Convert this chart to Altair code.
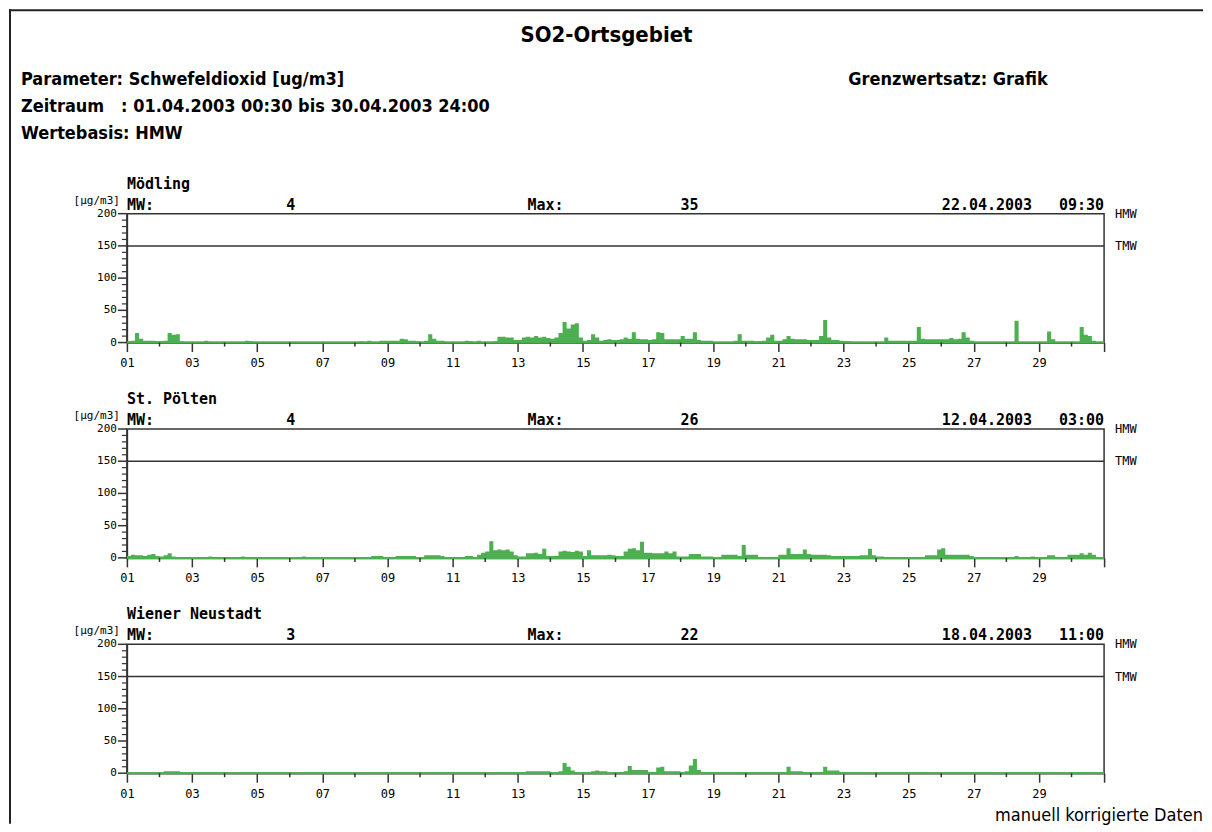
import altair as alt
import pandas as pd

# ---------------- data ----------------
stations = ["Mödling", "St. Pölten", "Wiener Neustadt"]
mw_values = ["4", "4", "3"]
max_values = ["35", "26", "22"]
NB = "\u00a0"
max_times = ["22.04.2003" + NB * 3 + "09:30",
             "12.04.2003" + NB * 3 + "03:00",
             "18.04.2003" + NB * 3 + "11:00"]

# 3-hourly SO2 values (8 per day, 01.-30.04.2003) [µg/m3]
moedling = [
    2, 3, 15, 6, 3, 3, 3, 2,
    2, 3, 15, 12, 13, 2, 1, 1,
    1, 1, 1, 3, 1, 1, 1, 1,
    1, 1, 1, 1, 1, 3, 2, 1,
    1, 1, 1, 1, 1, 1, 1, 1,
    1, 1, 1, 1, 1, 1, 1, 1,
    1, 1, 1, 1, 1, 1, 1, 1,
    1, 2, 1, 3, 1, 1, 3, 3,
    3, 3, 3, 6, 5, 3, 3, 2,
    1, 3, 13, 6, 3, 3, 1, 1,
    1, 1, 1, 3, 2, 1, 3, 1,
    1, 1, 2, 9, 9, 8, 8, 4,
    4, 8, 9, 8, 10, 8, 9, 7,
    6, 8, 15, 32, 22, 28, 30, 8,
    3, 4, 13, 8, 3, 4, 5, 4,
    4, 5, 8, 6, 16, 6, 5, 5,
    4, 5, 16, 15, 5, 5, 5, 5,
    10, 6, 6, 16, 4, 3, 3, 3,
    1, 1, 1, 1, 1, 3, 13, 3,
    3, 3, 2, 2, 3, 8, 12, 3,
    3, 5, 10, 6, 5, 5, 5, 4,
    4, 4, 10, 35, 8, 4, 4, 3,
    2, 2, 1, 1, 1, 1, 1, 1,
    1, 1, 8, 3, 3, 3, 3, 3,
    3, 3, 24, 6, 5, 5, 5, 5,
    5, 5, 7, 5, 6, 16, 8, 3,
    1, 1, 1, 1, 1, 1, 1, 1,
    1, 1, 34, 1, 1, 1, 1, 1,
    1, 1, 17, 5, 1, 1, 1, 1,
    1, 1, 24, 12, 10, 3, 1, 1,
]
stpoelten = [
    3, 5, 4, 4, 3, 5, 6, 3,
    2, 4, 7, 2, 1, 1, 1, 1,
    1, 1, 1, 1, 2, 1, 1, 1,
    1, 1, 1, 1, 2, 1, 1, 1,
    1, 1, 1, 1, 1, 1, 1, 1,
    1, 1, 1, 2, 1, 1, 1, 1,
    1, 1, 1, 1, 1, 1, 1, 1,
    1, 1, 1, 1, 3, 3, 3, 1,
    1, 1, 3, 3, 3, 3, 3, 1,
    1, 4, 4, 4, 4, 3, 1, 1,
    1, 1, 1, 3, 3, 1, 5, 8,
    10, 26, 12, 13, 12, 13, 10, 4,
    2, 2, 7, 7, 8, 6, 14, 3,
    3, 3, 10, 11, 10, 9, 11, 10,
    3, 12, 4, 4, 4, 4, 5, 4,
    3, 3, 10, 14, 15, 12, 25, 8,
    8, 7, 7, 7, 10, 7, 10, 2,
    2, 2, 6, 6, 6, 2, 2, 2,
    1, 1, 5, 5, 5, 5, 3, 20,
    5, 5, 5, 1, 1, 1, 1, 1,
    5, 5, 15, 6, 6, 6, 13, 6,
    5, 5, 5, 5, 4, 3, 3, 3,
    3, 3, 3, 3, 4, 4, 14, 4,
    2, 2, 1, 1, 1, 1, 1, 1,
    1, 1, 1, 1, 4, 4, 4, 13,
    15, 5, 5, 5, 5, 5, 5, 3,
    1, 1, 1, 1, 1, 1, 1, 1,
    1, 1, 3, 1, 1, 1, 2, 1,
    1, 1, 4, 4, 1, 1, 1, 5,
    5, 5, 7, 5, 8, 5, 1, 1,
]
wrneustadt = [
    1, 1, 2, 1, 1, 1, 1, 1,
    1, 3, 3, 3, 3, 1, 1, 1,
    1, 1, 1, 1, 1, 1, 1, 1,
    1, 1, 1, 1, 1, 1, 1, 1,
    1, 1, 1, 1, 1, 1, 1, 1,
    1, 1, 1, 1, 1, 1, 1, 1,
    1, 1, 1, 1, 1, 1, 1, 1,
    1, 1, 1, 1, 1, 2, 1, 1,
    1, 1, 2, 1, 1, 1, 1, 1,
    1, 1, 2, 1, 2, 1, 1, 1,
    1, 1, 1, 1, 1, 1, 1, 1,
    1, 1, 1, 2, 1, 1, 1, 1,
    1, 1, 3, 3, 3, 3, 3, 3,
    1, 1, 3, 16, 10, 4, 2, 1,
    1, 1, 3, 4, 3, 3, 1, 1,
    1, 2, 3, 11, 5, 5, 5, 5,
    2, 2, 9, 10, 3, 3, 3, 3,
    2, 3, 12, 22, 5, 2, 2, 2,
    1, 1, 1, 1, 1, 1, 2, 2,
    2, 2, 1, 1, 1, 1, 1, 1,
    1, 1, 10, 3, 3, 3, 1, 1,
    1, 1, 2, 10, 4, 4, 4, 2,
    1, 1, 1, 1, 1, 1, 1, 1,
    1, 1, 1, 1, 1, 1, 1, 1,
    1, 1, 1, 2, 2, 1, 1, 1,
    1, 1, 1, 1, 1, 1, 1, 1,
    1, 1, 1, 1, 1, 1, 1, 1,
    1, 1, 1, 1, 1, 1, 2, 2,
    1, 1, 1, 1, 1, 1, 1, 1,
    2, 2, 2, 1, 1, 1, 1, 1,
]
series = [moedling, stpoelten, wrneustadt]
steps_per_day = 8

x_major = list(range(1, 32, 2))
x_minor = list(range(2, 31, 2))
y_major = [0, 50, 100, 150, 200]
y_minor = [v for v in range(10, 200, 10) if v % 50 != 0]
limit_values = [200, 150]
limit_labels = ["HMW", "TMW"]

title_text = "SO2-Ortsgebiet"
header_lines = [
    "Parameter: Schwefeldioxid [ug/m3]",
    "Zeitraum" + NB * 3 + ": 01.04.2003 00:30 bis 30.04.2003 24:00",
    "Wertebasis: HMW",
]
right_header = "Grenzwertsatz: Grafik"
unit_text = "[µg/m3]"
footer_text = "manuell korrigierte Daten"

# ---------------- style ----------------
GREEN = "#4caf50"
DARK = "#333333"
HEAD_FONT = "DejaVu Sans Condensed"
BLOCK_FONT = "DejaVu Sans Mono"
W, H = 978, 129
one = pd.DataFrame({"a": [0]})

x_scale = alt.Scale(domain=[1, 31], nice=False, zero=False)
y_scale = alt.Scale(domain=[0, 200], nice=False)


def panel(k):
    vals = series[k]
    t = [1 + i / steps_per_day for i in range(len(vals))] + [31]
    v = list(vals) + [vals[-1]]
    df = pd.DataFrame({"t": t, "v": v})

    x_axis = alt.Axis(values=x_major, tickSize=9, labelPadding=6, title=None, grid=False,
                      labelFlush=False, labelOverlap=False, domainColor=DARK, domainWidth=1.5,
                      tickColor=DARK, tickWidth=1.5, labelFont=BLOCK_FONT, labelFontSize=12,
                      labelColor="black",
                      labelExpr="datum.value == 31 ? '' : (datum.value < 10 ? '0' + datum.value : '' + datum.value)")
    y_axis = alt.Axis(labels=False, ticks=False, title=None, grid=False,
                      domainColor=DARK, domainWidth=1.5)

    area = alt.Chart(df).mark_area(interpolate="step-after", color=GREEN).encode(
        x=alt.X("t:Q", scale=x_scale, axis=x_axis),
        y=alt.Y("v:Q", scale=y_scale, axis=y_axis),
    )
    base = alt.Chart(pd.DataFrame({"v": [0]})).mark_rule(color=GREEN, strokeWidth=2).encode(
        y="v:Q")
    lim_df = pd.DataFrame({"v": limit_values, "lab": limit_labels})
    tmw = alt.Chart(lim_df).transform_filter("datum.lab == 'TMW'").mark_rule(
        color=DARK, strokeWidth=1.5).encode(y="v:Q")
    lim_text = alt.Chart(lim_df).mark_text(align="left", baseline="middle", font=BLOCK_FONT,
                                           fontSize=12, color="black").encode(
        y="v:Q", x=alt.value(W + 11), text="lab:N")
    ymaj_df = pd.DataFrame({"v": y_major})
    ymajor = alt.Chart(ymaj_df).mark_rule(color=DARK, strokeWidth=1.5).encode(
        y="v:Q", x=alt.value(-9), x2=alt.value(0))
    ylabels = alt.Chart(ymaj_df).mark_text(align="right", baseline="middle", font=BLOCK_FONT,
                                           fontSize=11, color="black").encode(
        y="v:Q", x=alt.value(-10), text=alt.Text("v:Q", format="d"))
    yminor = alt.Chart(pd.DataFrame({"v": y_minor})).mark_rule(color=DARK, strokeWidth=1.2).encode(
        y="v:Q", x=alt.value(-5), x2=alt.value(0))
    xminor = alt.Chart(pd.DataFrame({"t": x_minor})).mark_rule(color=DARK, strokeWidth=1.5).encode(
        x="t:Q", y=alt.value(H), y2=alt.value(H + 4))

    info = pd.DataFrame({"st": [stations[k]], "mw": [mw_values[k]], "mx": [max_values[k]],
                         "tm": [max_times[k]]})
    bold = dict(font=BLOCK_FONT, fontSize=15, fontWeight="bold", color="black", baseline="middle")
    st_t = alt.Chart(info).mark_text(align="left", **bold).encode(
        x=alt.value(0), y=alt.value(-30), text="st:N")
    mw_l = alt.Chart(info).mark_text(align="left", **bold).encode(
        x=alt.value(0), y=alt.value(-9), text=alt.value("MW:"))
    mw_t = alt.Chart(info).mark_text(align="center", **bold).encode(
        x=alt.value(164), y=alt.value(-9), text="mw:N")
    mx_l = alt.Chart(info).mark_text(align="left", **bold).encode(
        x=alt.value(401), y=alt.value(-9), text=alt.value("Max:"))
    mx_t = alt.Chart(info).mark_text(align="center", **bold).encode(
        x=alt.value(563), y=alt.value(-9), text="mx:N")
    tm_t = alt.Chart(info).mark_text(align="right", **bold).encode(
        x=alt.value(W), y=alt.value(-9), text="tm:N")
    unit = alt.Chart(one).mark_text(align="right", baseline="middle", font=BLOCK_FONT,
                                    fontSize=11, color="black").encode(
        x=alt.value(-7), y=alt.value(-13), text=alt.value(unit_text))

    layers = [area, base, tmw, lim_text, ymajor, ylabels, yminor, xminor,
              st_t, mw_l, mw_t, mx_l, mx_t, tm_t, unit]
    if k == 2:
        foot = alt.Chart(one).mark_text(align="right", baseline="middle", font=HEAD_FONT,
                                        fontSize=18, color="black").encode(
            x=alt.value(1077), y=alt.value(172), text=alt.value(footer_text))
        layers.append(foot)
    return alt.layer(*layers).properties(width=W, height=H)


# ---------------- header ----------------
HH = 117.5
frame_v = alt.Chart(one).mark_rule(color="#222222", strokeWidth=2).encode(
    x=alt.value(-117), y=alt.value(0), y2=alt.value(815))
frame_h = alt.Chart(one).mark_rule(color="#222222", strokeWidth=2).encode(
    x=alt.value(-118), x2=alt.value(1077), y=alt.value(1))
title = alt.Chart(one).mark_text(align="center", baseline="middle", font=HEAD_FONT,
                                 fontSize=22, fontWeight="bold", color="black").encode(
    x=alt.value(480), y=alt.value(26), text=alt.value(title_text))
hdr = [frame_v, frame_h, title]
for i, line in enumerate(header_lines):
    hdr.append(alt.Chart(one).mark_text(align="left", baseline="middle", font=HEAD_FONT,
                                        fontSize=18, fontWeight="bold", color="black").encode(
        x=alt.value(-106), y=alt.value(71 + 27 * i), text=alt.value(line)))
hdr.append(alt.Chart(one).mark_text(align="left", baseline="middle", font=HEAD_FONT,
                                    fontSize=18, fontWeight="bold", color="black").encode(
    x=alt.value(722), y=alt.value(71), text=alt.value(right_header)))
header = alt.layer(*hdr).properties(width=W, height=HH,
                                    view=alt.ViewBackground(strokeOpacity=0))

chart = alt.vconcat(header, panel(0), panel(1), panel(2), spacing=86.5, bounds="flush").properties(
    padding=0, background="white"
).configure_view(stroke=DARK, strokeWidth=1.5)

chart.save("out.html", embed_options={"renderer": "svg", "actions": False})
